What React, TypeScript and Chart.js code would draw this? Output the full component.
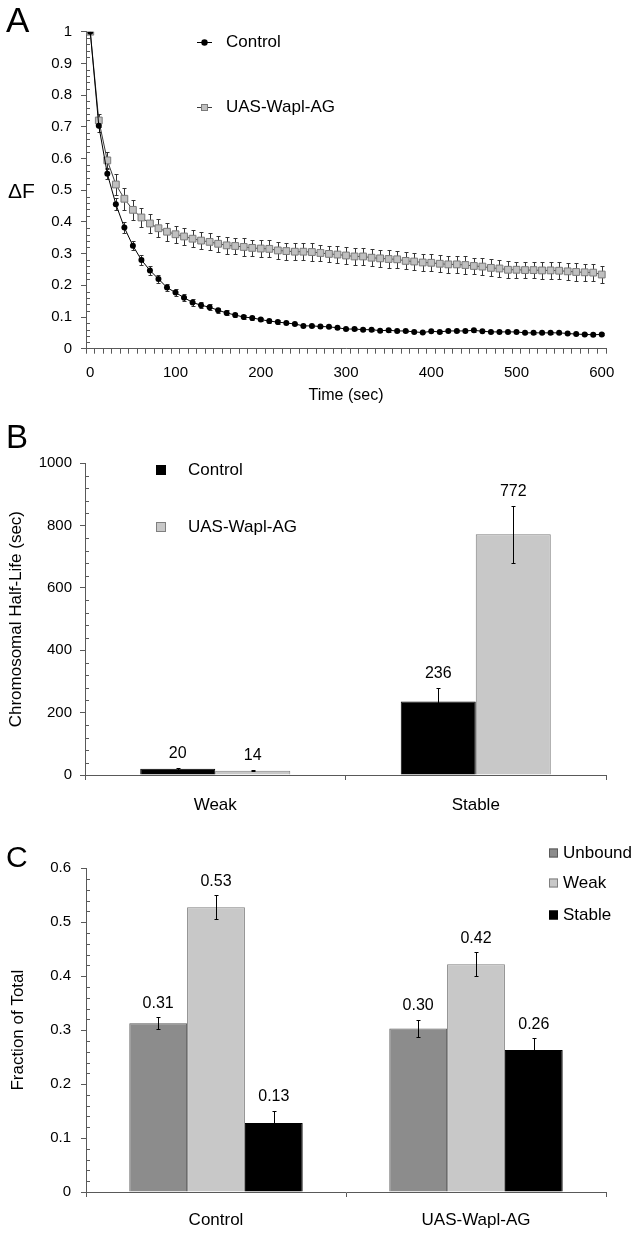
import React, { useEffect, useRef } from 'react';
import { Chart, registerables } from 'chart.js';

Chart.register(...registerables);

const FONT = '"Liberation Sans", Arial, Helvetica, sans-serif';
Chart.defaults.font.family = FONT;
Chart.defaults.color = '#000';

const AXIS = '#595959';

// ---------- Panel A data ----------
const times = [
  0, 10, 20, 30, 40, 50, 60, 70, 80, 90,
  100, 110, 120, 130, 140, 150, 160, 170, 180, 190,
  200, 210, 220, 230, 240, 250, 260, 270, 280, 290,
  300, 310, 320, 330, 340, 350, 360, 370, 380, 390,
  400, 410, 420, 430, 440, 450, 460, 470, 480, 490,
  500, 510, 520, 530, 540, 550, 560, 570, 580, 590,
  600,
];
const controlDecay = [
  1.0, 0.703, 0.552, 0.456, 0.382, 0.325, 0.28, 0.247, 0.22, 0.193,
  0.177, 0.161, 0.146, 0.137, 0.131, 0.121, 0.113, 0.106, 0.1, 0.097,
  0.092, 0.087, 0.084, 0.081, 0.078, 0.072, 0.072, 0.07, 0.069, 0.066,
  0.062, 0.062, 0.06, 0.06, 0.057, 0.058, 0.056, 0.056, 0.053, 0.051,
  0.055, 0.053, 0.056, 0.056, 0.056, 0.058, 0.055, 0.053, 0.053, 0.053,
  0.053, 0.05, 0.05, 0.05, 0.05, 0.05, 0.048, 0.046, 0.045, 0.044,
  0.045,
];
const controlDecayErr = [
  0, 0.02, 0.018, 0.019, 0.017, 0.015, 0.015, 0.013, 0.013, 0.012,
  0.011, 0.01, 0.01, 0.009, 0.009, 0.008, 0.008, 0.007, 0.006, 0.006,
  0.005, 0.005, 0.005, 0.004, 0.004, 0.004, 0.004, 0.004, 0.004, 0.004,
  0.004, 0.003, 0.004, 0.003, 0.003, 0.004, 0.003, 0.003, 0.004, 0.003,
  0.003, 0.004, 0.003, 0.003, 0.003, 0.004, 0.003, 0.003, 0.003, 0.003,
  0.003, 0.003, 0.003, 0.003, 0.003, 0.003, 0.003, 0.003, 0.003, 0.003,
  0.003,
];
const waplDecay = [
  1.0, 0.72, 0.594, 0.518, 0.473, 0.438, 0.414, 0.395, 0.38, 0.369,
  0.361, 0.354, 0.347, 0.341, 0.337, 0.331, 0.326, 0.324, 0.321, 0.318,
  0.316, 0.315, 0.31, 0.308, 0.306, 0.306, 0.305, 0.302, 0.299, 0.297,
  0.294, 0.291, 0.291, 0.287, 0.285, 0.283, 0.282, 0.277, 0.275, 0.272,
  0.271, 0.268, 0.266, 0.266, 0.264, 0.261, 0.259, 0.255, 0.253, 0.249,
  0.249, 0.248, 0.248, 0.247, 0.247, 0.246, 0.244, 0.242, 0.241, 0.24,
  0.234,
];
const waplDecayErr = [
  0, 0.02, 0.026, 0.032, 0.034, 0.031, 0.03, 0.029, 0.028, 0.028,
  0.027, 0.027, 0.026, 0.026, 0.027, 0.026, 0.026, 0.026, 0.027, 0.026,
  0.026, 0.027, 0.026, 0.027, 0.026, 0.026, 0.027, 0.026, 0.026, 0.027,
  0.027, 0.026, 0.027, 0.026, 0.027, 0.027, 0.026, 0.027, 0.028, 0.027,
  0.027, 0.027, 0.026, 0.027, 0.027, 0.026, 0.027, 0.027, 0.026, 0.027,
  0.026, 0.026, 0.026, 0.027, 0.026, 0.027, 0.026, 0.027, 0.026, 0.027,
  0.028,
];

// ---------- Panel B data ----------
const halfLifeCategories = ['Weak', 'Stable'];
const halfLifeControl = [20, 236];
const halfLifeControlErr = [3, 44];
const halfLifeWapl = [14, 772];
const halfLifeWaplErr = [2, 92];

// ---------- Panel C data ----------
const fractionGroups = ['Control', 'UAS-Wapl-AG'];
const fractionUnbound = [0.313, 0.303];
const fractionUnboundErr = [0.011, 0.016];
const fractionWeak = [0.528, 0.422];
const fractionWeakErr = [0.022, 0.022];
const fractionStable = [0.128, 0.263];
const fractionStableErr = [0.023, 0.022];

// ---------- shared plugins ----------
function textPlugin(id: string, items: { text: string; x: number; y: number; size: number; baseline?: string }[]) {
  return {
    id,
    afterDraw(chart: any) {
      const ctx = chart.ctx;
      ctx.save();
      ctx.fillStyle = '#000';
      items.forEach((it) => {
        ctx.font = `${it.size}px ${FONT}`;
        ctx.textAlign = 'left';
        ctx.textBaseline = it.baseline || 'alphabetic';
        ctx.fillText(it.text, it.x, it.y);
      });
      ctx.restore();
    },
  };
}

function minorTicksPlugin(step: number, perMajor: number) {
  return {
    id: 'minorTicks',
    afterDraw(chart: any) {
      const s = chart.scales.y;
      const ctx = chart.ctx;
      ctx.save();
      ctx.strokeStyle = AXIS;
      ctx.lineWidth = 1;
      const n = Math.round((s.max - s.min) / step);
      const x0 = chart.chartArea.left;
      for (let k = 0; k <= n; k++) {
        if (k % perMajor === 0) continue;
        const py = Math.round(s.getPixelForValue(s.min + k * step)) + 0.5;
        ctx.beginPath();
        ctx.moveTo(x0, py);
        ctx.lineTo(x0 + 4, py);
        ctx.stroke();
      }
      ctx.restore();
    },
  };
}

function drawErrorBars(chart: any, color: string, cap: number) {
  const ctx = chart.ctx;
  const ys = chart.scales.y;
  ctx.save();
  ctx.strokeStyle = color;
  ctx.lineWidth = 1;
  chart.data.datasets.forEach((ds: any, di: number) => {
    const errs = ds.errors;
    if (!errs) return;
    const meta = chart.getDatasetMeta(di);
    meta.data.forEach((el: any, i: number) => {
      const e = errs[i];
      if (!e) return;
      const v = ds.data[i];
      const x = Math.round(el.x) + 0.5;
      const top = Math.round(ys.getPixelForValue(v + e)) + 0.5;
      const bot = Math.round(ys.getPixelForValue(v - e)) + 0.5;
      ctx.beginPath();
      ctx.moveTo(x, top);
      ctx.lineTo(x, bot);
      ctx.moveTo(x - cap, top);
      ctx.lineTo(x + cap, top);
      ctx.moveTo(x - cap, bot);
      ctx.lineTo(x + cap, bot);
      ctx.stroke();
    });
  });
  ctx.restore();
}

function valueLabelsPlugin(format: (v: number) => string) {
  return {
    id: 'valueLabels',
    afterDatasetsDraw(chart: any) {
      drawErrorBars(chart, '#000', 2);
      const ctx = chart.ctx;
      const ys = chart.scales.y;
      ctx.save();
      ctx.fillStyle = '#000';
      ctx.font = `16px ${FONT}`;
      ctx.textAlign = 'center';
      ctx.textBaseline = 'middle';
      chart.data.datasets.forEach((ds: any, di: number) => {
        const meta = chart.getDatasetMeta(di);
        meta.data.forEach((el: any, i: number) => {
          const v = ds.data[i];
          const e = ds.errors ? ds.errors[i] : 0;
          ctx.fillText(format(v), el.x, ys.getPixelForValue(v + e) - 14);
        });
      });
      ctx.restore();
    },
  };
}

function squareLegendPlugin(x: number, textX: number, size: number, ys: number[]) {
  return {
    id: 'squareLegend',
    afterDraw(chart: any) {
      const ctx = chart.ctx;
      ctx.save();
      chart.data.datasets.forEach((ds: any, i: number) => {
        const cy = ys[i];
        ctx.fillStyle = ds.backgroundColor;
        ctx.fillRect(x, cy - size / 2, size, size);
        ctx.strokeStyle = ds.borderColor;
        ctx.lineWidth = 1;
        ctx.strokeRect(x + 0.5, cy - size / 2 + 0.5, size - 1, size - 1);
        ctx.fillStyle = '#000';
        ctx.font = `17px ${FONT}`;
        ctx.textAlign = 'left';
        ctx.textBaseline = 'middle';
        ctx.fillText(ds.label, textX, cy);
      });
      ctx.restore();
    },
  };
}

const lineLegendPlugin = {
  id: 'lineLegend',
  afterDraw(chart: any) {
    const ctx = chart.ctx;
    const rows = [42, 107];
    ctx.save();
    chart.data.datasets.forEach((ds: any, i: number) => {
      const y = rows[i];
      ctx.strokeStyle = ds.borderColor;
      ctx.lineWidth = 1;
      ctx.beginPath();
      ctx.moveTo(197, y + 0.5);
      ctx.lineTo(212, y + 0.5);
      ctx.stroke();
      ctx.fillStyle = ds.pointBackgroundColor;
      ctx.strokeStyle = ds.pointBorderColor;
      if (ds.pointStyle === 'circle') {
        ctx.beginPath();
        ctx.arc(204.5, y + 0.5, 3.2, 0, Math.PI * 2);
        ctx.fill();
      } else {
        ctx.fillRect(201, y - 3, 7, 7);
        ctx.strokeRect(201.5, y - 2.5, 6, 6);
      }
      ctx.fillStyle = '#000';
      ctx.font = `17px ${FONT}`;
      ctx.textAlign = 'left';
      ctx.textBaseline = 'middle';
      ctx.fillText(ds.label, 226, y);
    });
    ctx.restore();
  },
};

const oneDecimal = (v: any) => String(Math.round(Number(v) * 10) / 10);

function makeDecayChart(canvas: HTMLCanvasElement) {
  return new Chart(canvas, {
    type: 'line',
    data: {
      labels: times.map(String),
      datasets: [
        {
          label: 'Control',
          data: controlDecay,
          errors: controlDecayErr,
          borderColor: '#000',
          borderWidth: 1,
          pointStyle: 'circle',
          pointRadius: 3,
          pointBackgroundColor: '#000',
          pointBorderColor: '#000',
          pointBorderWidth: 0,
          tension: 0,
        } as any,
        {
          label: 'UAS-Wapl-AG',
          data: waplDecay,
          errors: waplDecayErr,
          borderColor: '#3a3a3a',
          borderWidth: 1,
          pointStyle: 'rect',
          pointRadius: 4.8,
          pointBackgroundColor: '#c0c0c0',
          pointBorderColor: '#7a7a7a',
          pointBorderWidth: 1,
          tension: 0,
        } as any,
      ],
    },
    options: {
      animation: false,
      responsive: false,
      events: [],
      layout: { padding: { left: 0, right: 36, top: 31.7, bottom: 0 } },
      plugins: { legend: { display: false }, tooltip: { enabled: false } },
      scales: {
        x: {
          type: 'category',
          offset: true,
          grid: { offset: true, drawOnChartArea: false, drawTicks: true, tickLength: 5, color: AXIS },
          border: { color: AXIS },
          ticks: {
            autoSkip: false,
            maxRotation: 0,
            padding: 10,
            font: { size: 15 },
            callback: function (this: any, value: any, index: number) {
              return index % 10 === 0 ? this.getLabelForValue(value) : '';
            },
          },
          title: { display: true, text: 'Time (sec)', font: { size: 16 }, padding: { top: 0, bottom: 5 } },
          afterFit: (s: any) => {
            s.height = 61.3;
          },
        },
        y: {
          min: 0,
          max: 1,
          grid: { drawOnChartArea: false, drawTicks: true, tickLength: 5, color: AXIS },
          border: { color: AXIS },
          ticks: { stepSize: 0.1, padding: 9, font: { size: 15 }, callback: oneDecimal },
          afterFit: (s: any) => {
            s.width = 86;
          },
        },
      },
    } as any,
    plugins: [
      {
        id: 'decayErrors',
        beforeDatasetsDraw(chart: any) {
          drawErrorBars(chart, '#333', 2);
        },
      },
      minorTicksPlugin(0.02, 5),
      lineLegendPlugin,
      textPlugin('labelsA', [
        { text: 'A', x: 6, y: 32, size: 35 },
        { text: 'ΔF', x: 8, y: 192, size: 21, baseline: 'middle' },
      ]),
    ] as any,
  });
}

function makeHalfLifeChart(canvas: HTMLCanvasElement) {
  return new Chart(canvas, {
    type: 'bar',
    data: {
      labels: halfLifeCategories,
      datasets: [
        {
          label: 'Control',
          data: halfLifeControl,
          errors: halfLifeControlErr,
          backgroundColor: '#000',
          borderColor: '#000',
          borderWidth: 1,
        } as any,
        {
          label: 'UAS-Wapl-AG',
          data: halfLifeWapl,
          errors: halfLifeWaplErr,
          backgroundColor: '#c8c8c8',
          borderColor: '#7f7f7f',
          borderWidth: 1,
        } as any,
      ],
    },
    options: {
      animation: false,
      responsive: false,
      events: [],
      categoryPercentage: 0.576,
      barPercentage: 1,
      layout: { padding: { left: 0, right: 36, top: 53.3, bottom: 0 } },
      plugins: { legend: { display: false }, tooltip: { enabled: false } },
      scales: {
        x: {
          grid: { offset: true, drawOnChartArea: false, drawTicks: true, tickLength: 5, color: AXIS },
          border: { color: AXIS },
          ticks: { padding: 15.5, font: { size: 17 }, maxRotation: 0 },
          afterFit: (s: any) => {
            s.height = 45;
          },
        },
        y: {
          min: 0,
          max: 1000,
          grid: { drawOnChartArea: false, drawTicks: true, tickLength: 5, color: AXIS },
          border: { color: AXIS },
          ticks: { stepSize: 200, padding: 8, font: { size: 15 }, callback: (v: any) => String(v) },
          title: { display: true, text: 'Chromosomal Half-Life (sec)', font: { size: 17 }, padding: { top: 6, bottom: 0 } },
          afterFit: (s: any) => {
            s.width = 85;
          },
        },
      },
    } as any,
    plugins: [
      valueLabelsPlugin((v) => String(Math.round(v))),
      minorTicksPlugin(40, 5),
      squareLegendPlugin(156, 188, 10, [60, 117]),
      textPlugin('labelsB', [{ text: 'B', x: 6, y: 38, size: 33 }]),
    ] as any,
  });
}

function makeFractionChart(canvas: HTMLCanvasElement) {
  return new Chart(canvas, {
    type: 'bar',
    data: {
      labels: fractionGroups,
      datasets: [
        {
          label: 'Unbound',
          data: fractionUnbound,
          errors: fractionUnboundErr,
          backgroundColor: '#8c8c8c',
          borderColor: '#5a5a5a',
          borderWidth: 1,
        } as any,
        {
          label: 'Weak',
          data: fractionWeak,
          errors: fractionWeakErr,
          backgroundColor: '#c8c8c8',
          borderColor: '#7f7f7f',
          borderWidth: 1,
        } as any,
        {
          label: 'Stable',
          data: fractionStable,
          errors: fractionStableErr,
          backgroundColor: '#000',
          borderColor: '#000',
          borderWidth: 1,
        } as any,
      ],
    },
    options: {
      animation: false,
      responsive: false,
      events: [],
      categoryPercentage: 0.667,
      barPercentage: 1,
      layout: { padding: { left: 0, right: 36, top: 48.3, bottom: 0 } },
      plugins: { legend: { display: false }, tooltip: { enabled: false } },
      scales: {
        x: {
          grid: { offset: true, drawOnChartArea: false, drawTicks: true, tickLength: 5, color: AXIS },
          border: { color: AXIS },
          ticks: { padding: 12.8, font: { size: 17 }, maxRotation: 0 },
          afterFit: (s: any) => {
            s.height = 43;
          },
        },
        y: {
          min: 0,
          max: 0.6,
          grid: { drawOnChartArea: false, drawTicks: true, tickLength: 5, color: AXIS },
          border: { color: AXIS },
          ticks: { stepSize: 0.1, padding: 10, font: { size: 15 }, callback: oneDecimal },
          title: { display: true, text: 'Fraction of Total', font: { size: 17 }, padding: { top: 8, bottom: 0 } },
          afterFit: (s: any) => {
            s.width = 86;
          },
        },
      },
    } as any,
    plugins: [
      valueLabelsPlugin((v) => v.toFixed(2)),
      minorTicksPlugin(0.02, 5),
      squareLegendPlugin(549, 563, 9, [33, 63, 95]),
      textPlugin('labelsC', [{ text: 'C', x: 6, y: 47, size: 30 }]),
    ] as any,
  });
}

export default function App() {
  const aRef = useRef<HTMLCanvasElement>(null);
  const bRef = useRef<HTMLCanvasElement>(null);
  const cRef = useRef<HTMLCanvasElement>(null);

  useEffect(() => {
    const charts: Chart[] = [];
    if (aRef.current) charts.push(makeDecayChart(aRef.current));
    if (bRef.current) charts.push(makeHalfLifeChart(bRef.current));
    if (cRef.current) charts.push(makeFractionChart(cRef.current));
    return () => charts.forEach((c) => c.destroy());
  }, []);

  return (
    <div style={{ position: 'absolute', left: 0, top: 0, width: 642, height: 1235, background: '#fff', overflow: 'hidden' }}>
      <canvas ref={aRef} width={642} height={410} style={{ position: 'absolute', left: 0, top: 0 }} />
      <canvas ref={bRef} width={642} height={410} style={{ position: 'absolute', left: 0, top: 410 }} />
      <canvas ref={cRef} width={642} height={415} style={{ position: 'absolute', left: 0, top: 820 }} />
    </div>
  );
}
